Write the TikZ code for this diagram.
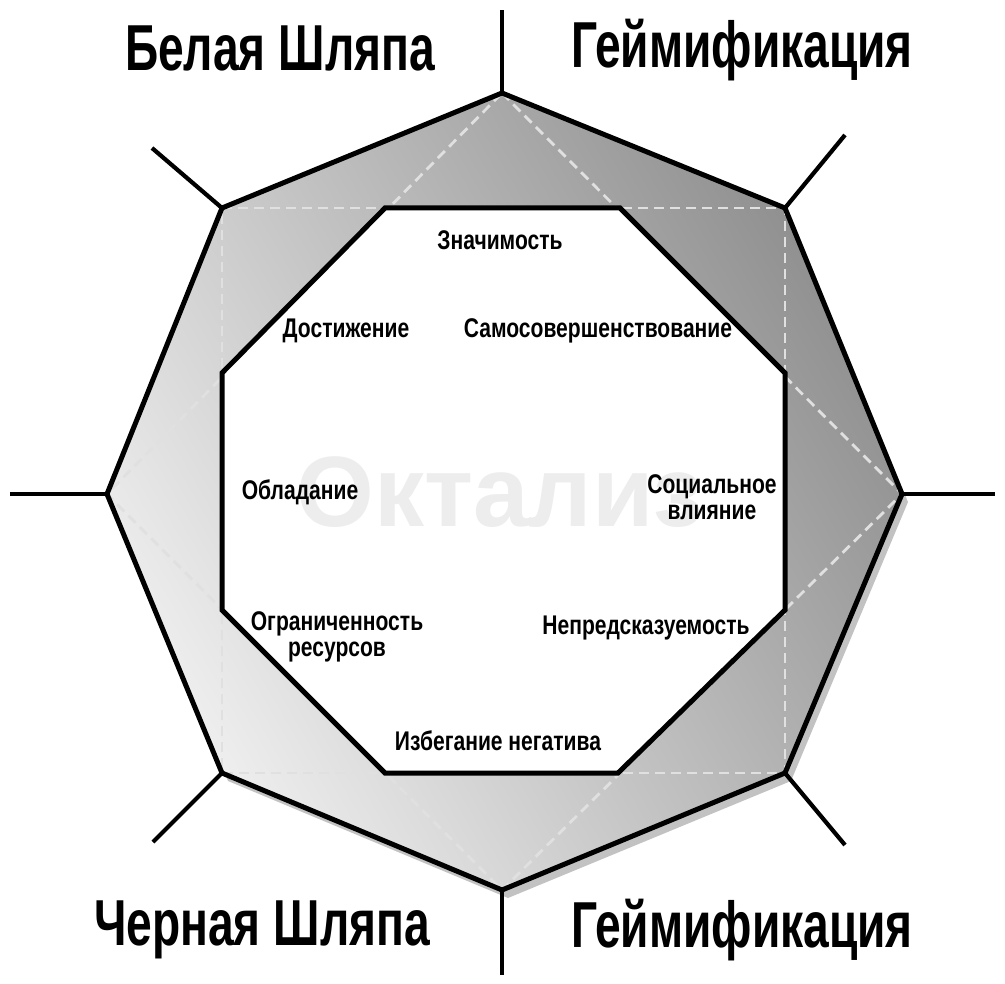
\documentclass[tikz,border=0pt]{standalone}
\usepackage{fontspec}
\newfontfamily\condfont{Liberation Sans}[FakeStretch=0.78]
\newfontfamily\hatfont{Liberation Sans}[FakeStretch=0.71]
\newfontfamily\markfont{Liberation Sans}
\usetikzlibrary{positioning}
\tikzset{
  edge/.style={line width=5pt,line join=miter},
  spoke/.style={line width=4.2pt},
  guide/.style={draw=black!12,line width=2.8pt,dash pattern=on 10pt off 6pt},
  motive/.style={font=\condfont\bfseries\fontsize{27}{26}\selectfont,align=center,inner sep=0pt},
  hat/.style={font=\hatfont\bfseries\fontsize{65}{70}\selectfont,inner sep=0pt}
}
\begin{document}
\begin{tikzpicture}[x=1pt,y=-1pt]
  \useasboundingbox (0,0) rectangle (1005,984);
  \coordinate (oT) at (502,93);
  \coordinate (oUR) at (785,208);
  \coordinate (oR) at (902,494);
  \coordinate (oLR) at (785,773);
  \coordinate (oB) at (502,890);
  \coordinate (oLL) at (222,773);
  \coordinate (oL) at (107,494);
  \coordinate (oUL) at (222,208);
  \coordinate (iT1) at (385,208);
  \coordinate (iT2) at (620,208);
  \coordinate (iR1) at (785,373);
  \coordinate (iR2) at (785,610);
  \coordinate (iB2) at (618,773);
  \coordinate (iB1) at (385,773);
  \coordinate (iL2) at (222,610);
  \coordinate (iL1) at (222,373);
  \coordinate (eT) at (502,10);
  \coordinate (eUR) at (845,135);
  \coordinate (eR) at (995,494);
  \coordinate (eLR) at (845,845);
  \coordinate (eB) at (502,975);
  \coordinate (eLL) at (153,842);
  \coordinate (eL) at (10,494);
  \coordinate (eUL) at (152,148);
  \fill[black!24,transform canvas={xshift=6pt,yshift=-8pt}]
    (oT) -- (oUR) -- (oR) -- (oLR) -- (oB) -- (oLL) -- (oL) -- (oUL) -- cycle;
  \shade[left color=black!6,right color=black!44,shading angle=120]
    (oT) -- (oUR) -- (oR) -- (oLR) -- (oB) -- (oLL) -- (oL) -- (oUL) -- cycle;
  \draw[guide] (oUL) -- (oUR) -- (oLR) -- (oLL) -- cycle;
  \draw[guide] (oT) -- (oR) -- (oB) -- (oL) -- cycle;
  \fill[white]
    (iT1) -- (iT2) -- (iR1) -- (iR2) -- (iB2) -- (iB1) -- (iL2) -- (iL1) -- cycle;
  \draw[edge]
    (oT) -- (oUR) -- (oR) -- (oLR) -- (oB) -- (oLL) -- (oL) -- (oUL) -- cycle;
  \draw[edge]
    (iT1) -- (iT2) -- (iR1) -- (iR2) -- (iB2) -- (iB1) -- (iL2) -- (iL1) -- cycle;
  \draw[spoke] (oT) -- (eT);
  \draw[spoke] (oUR) -- (eUR);
  \draw[spoke] (oR) -- (eR);
  \draw[spoke] (oLR) -- (eLR);
  \draw[spoke] (oB) -- (eB);
  \draw[spoke] (oLL) -- (eLL);
  \draw[spoke] (oL) -- (eL);
  \draw[spoke] (oUL) -- (eUL);
  \node[text=black!7,font=\markfont\bfseries\fontsize{100}{104}\selectfont] (Oktaliz) at (500,492) {Октализ};
  \node[motive] (Meaning) at (500,240) {Значимость};
  \node[motive] (Accomplishment) at (346,331) {Достижение};
  \node[motive] (Empowerment) at (598,331) {Самосовершенствование};
  \node[motive] (Ownership) at (300,492) {Обладание};
  \node[motive] (Social) at (712,497) {Социальное\\влияние};
  \node[motive] (Scarcity) at (337,637) {Ограниченность\\ресурсов};
  \node[motive] (Unpredictability) at (646,628) {Непредсказуемость};
  \node[motive] (Avoidance) at (498,741) {Избегание негатива};
  \node[hat] (WhiteHat) at (280,48) {Белая Шляпа};
  \node[hat] (GamifTop) at (742,50) {Геймификация};
  \node[hat] (BlackHat) at (262,930) {Черная Шляпа};
  \node[hat] (GamifBottom) at (742,930) {Геймификация};
\end{tikzpicture}
\end{document}
